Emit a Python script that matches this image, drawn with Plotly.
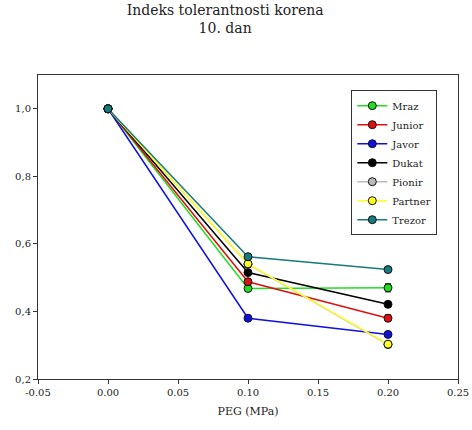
import plotly.graph_objects as go

peg = [0.0, 0.10, 0.20]
series_names = ["Mraz", "Junior", "Javor", "Dukat", "Pionir", "Partner", "Trezor"]
mraz = [1.0, 0.468, 0.470]
junior = [1.0, 0.488, 0.380]
javor = [1.0, 0.380, 0.332]
dukat = [1.0, 0.515, 0.421]
pionir = [1.0, 0.540, 0.302]
partner = [1.0, 0.541, 0.303]
trezor = [1.0, 0.562, 0.524]
mraz_err = [0, 0, 0.012]
junior_err = [0, 0, 0.010]
zero_err = [0, 0, 0]
colors = ["#22dd22", "#dd1111", "#1111dd", "#000000", "#bbbbbb", "#ffff22", "#1a7a7a"]

values = [mraz, junior, javor, dukat, pionir, partner, trezor]
errs = [mraz_err, junior_err, zero_err, zero_err, zero_err, zero_err, zero_err]

y_tickvals = [0.2, 0.4, 0.6, 0.8, 1.0]
y_ticktext = ["0,2", "0,4", "0,6", "0,8", "1,0"]
x_tickvals = [-0.05, 0.0, 0.05, 0.10, 0.15, 0.20, 0.25]
x_ticktext = ["-0.05", "0.00", "0.05", "0.10", "0.15", "0.20", "0.25"]

font = "DejaVu Serif"
fig = go.Figure()
for name, vals, err, col in zip(series_names, values, errs, colors):
    fig.add_trace(go.Scatter(
        x=peg, y=vals, name=name, mode="lines+markers",
        line=dict(color=col, width=1.5),
        marker=dict(color=col, size=8, line=dict(color="#111111", width=1)),
        error_y=dict(type="data", array=err, visible=True, color="#111111", thickness=1, width=3),
    ))

fig.update_layout(
    width=472, height=430,
    margin=dict(l=38, r=14, t=75, b=51, autoexpand=False),
    paper_bgcolor="white", plot_bgcolor="white",
    font=dict(family=font, size=10, color="#222222"),
    title=dict(text="Indeks tolerantnosti korena<br>10. dan", x=0.477, xanchor="center",
               y=0.965, yanchor="top", font=dict(family=font, size=14, color="#222222")),
    showlegend=True,
    legend=dict(x=0.746, y=0.95, xanchor="left", yanchor="top",
                bordercolor="#333333", borderwidth=1, bgcolor="white",
                font=dict(family=font, size=10), tracegroupgap=0,
                itemwidth=30),
    xaxis=dict(range=[-0.05, 0.25], tickvals=x_tickvals, ticktext=x_ticktext,
               showgrid=False, zeroline=False, showline=True, linecolor="#333333",
               mirror=True, ticks="outside", ticklen=4, tickcolor="#333333",
               title=dict(text="PEG (MPa)", font=dict(family=font, size=11), standoff=10)),
    yaxis=dict(range=[0.2, 1.1], tickvals=y_tickvals, ticktext=y_ticktext,
               showgrid=False, zeroline=False, showline=True, linecolor="#333333",
               mirror=True, ticks="outside", ticklen=4, tickcolor="#333333"),
)
fig.write_html("out.html")
